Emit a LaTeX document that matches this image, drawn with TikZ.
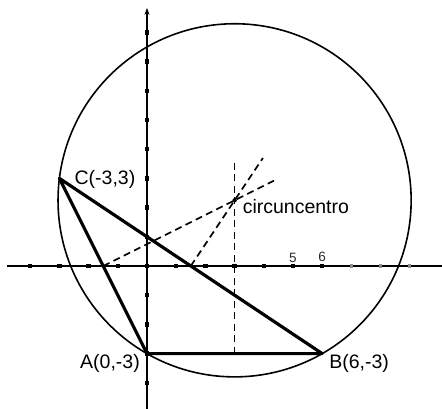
\documentclass[tikz,border=0pt]{standalone}
\usepackage{fontspec}
\setmainfont{Liberation Sans}
\usetikzlibrary{arrows.meta}
\begin{document}
\begin{tikzpicture}[x=29.2pt,y=29.2pt,
  axis/.style={line width=1.8pt},
  tri/.style={line width=3.2pt,line join=round},
  circ/.style={line width=1.6pt},
  bis/.style={line width=1.7pt,dash pattern=on 7pt off 4.5pt},
  lbl/.style={font=\fontsize{19.5}{22}\selectfont,inner sep=0pt},
  tlbl/.style={font=\fontsize{13.5}{15}\selectfont,inner sep=0pt,text=black!85},
  tick/.style={fill=black}]
\useasboundingbox (-5.034,-4.863) rectangle (10.103,9.110);
\coordinate (A) at (0,-3);
\coordinate (B) at (6,-3);
\coordinate (C) at (-3,3);
\coordinate (O) at (3,2.25);
\coordinate (Mab) at (3,-3);
\coordinate (Mac) at (-1.5,0);
\coordinate (Mbc) at (1.5,0);
\coordinate (Eab) at (3,3.53);
\coordinate (Eac) at (4.38,2.94);
\coordinate (Ebc) at (3.97,3.7);
\coordinate (xl) at (-4.79,0);
\coordinate (xr) at (10.2,0);
\coordinate (yb) at (0,-5);
\coordinate (yt) at (0,8.84);
% circle
\draw[circ] (O) circle (6.0467);
% axes
\draw[axis] (xl) -- (xr);
\draw[axis,-{Stealth[length=7pt,width=5pt]}] (yb) -- (yt);
\foreach \x in {-4,...,6} \fill[tick] (\x,0) ++(-2.2pt,-2.2pt) rectangle ++(4.4pt,4.4pt);
\foreach \x in {7,8,9} \fill[black!45] (\x,0) ++(-1.6pt,-1.6pt) rectangle ++(3.2pt,3.2pt);
\foreach \y in {-4,...,8} \fill[tick] (0,\y) ++(-2.2pt,-2.2pt) rectangle ++(4.4pt,4.4pt);
\node[tlbl,anchor=south] (l5) at (5,0.1) {5};
\node[tlbl,anchor=south] (l6) at (6,0.14) {6};
% bisectors
\draw[bis] (Mab) -- (Eab);
\draw[bis] (Mac) -- (Eac);
\draw[bis] (Mbc) -- (Ebc);
\fill (O) circle (2.2pt);
% triangle
\draw[tri] (A) -- (B) -- (C) -- cycle;
% labels
\node[lbl,anchor=west] (lc) at ([xshift=15pt,yshift=-1pt]C) {C(-3,3)};
\node[lbl,anchor=north east] (la) at ([xshift=-7pt,yshift=-1pt]A) {A(0,-3)};
\node[lbl,anchor=north west] (lb) at ([xshift=7pt,yshift=-1pt]B) {B(6,-3)};
\node[lbl,anchor=north west] (lo) at ([xshift=8pt,yshift=1pt]O) {circuncentro};
\end{tikzpicture}
\end{document}
